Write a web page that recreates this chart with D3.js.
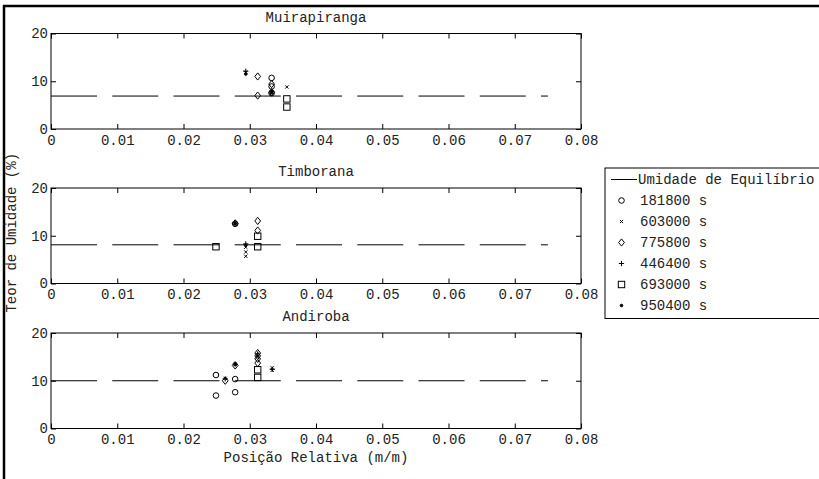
<!DOCTYPE html>
<html><head><meta charset="utf-8">
<script src="https://cdn.jsdelivr.net/npm/d3@7"></script>
<style>body{margin:0;background:#fff}svg{display:block}</style></head>
<body><svg id="c" width="819" height="479"></svg>
<script>
// ---------------- data ----------------
const panels = ["Muirapiranga", "Timborana", "Andiroba"];
const seriesNames = ["181800 s", "603000 s", "775800 s", "446400 s", "693000 s", "950400 s"];
const seriesSymbols = ["circle", "x", "diamond", "plus", "square", "dot"];
const equilibriumLabel = "Umidade de Equilíbrio";
const equilibrium = [6.9, 8.1, 10];
const equilibriumEnd = 0.075;
const xTicks = [0, 0.01, 0.02, 0.03, 0.04, 0.05, 0.06, 0.07, 0.08];
const yTicks = [0, 10, 20];
const xTitle = "Posição Relativa (m/m)";
const yTitle = "Teor de Umidade (%)";

const muirapirangaPoints = [
  {s: "446400 s", x: 0.0294, y: 12.1},
  {s: "603000 s", x: 0.0294, y: 11.9},
  {s: "950400 s", x: 0.0294, y: 11.5},
  {s: "775800 s", x: 0.0312, y: 11.0},
  {s: "775800 s", x: 0.0312, y: 7.0},
  {s: "181800 s", x: 0.0333, y: 10.7},
  {s: "181800 s", x: 0.0333, y: 8.9},
  {s: "775800 s", x: 0.0333, y: 9.4},
  {s: "181800 s", x: 0.0333, y: 7.5},
  {s: "775800 s", x: 0.0333, y: 7.7},
  {s: "446400 s", x: 0.0333, y: 7.9},
  {s: "603000 s", x: 0.0333, y: 7.8},
  {s: "950400 s", x: 0.0333, y: 7.6},
  {s: "603000 s", x: 0.0356, y: 8.8},
  {s: "693000 s", x: 0.0356, y: 6.3},
  {s: "693000 s", x: 0.0356, y: 4.6}
];
const timboranaPoints = [
  {s: "693000 s", x: 0.0249, y: 7.7},
  {s: "775800 s", x: 0.0278, y: 12.6},
  {s: "181800 s", x: 0.0278, y: 12.5},
  {s: "446400 s", x: 0.0278, y: 12.7},
  {s: "950400 s", x: 0.0278, y: 12.5},
  {s: "446400 s", x: 0.0294, y: 8.3},
  {s: "950400 s", x: 0.0294, y: 8.0},
  {s: "603000 s", x: 0.0294, y: 7.6},
  {s: "603000 s", x: 0.0294, y: 6.6},
  {s: "603000 s", x: 0.0294, y: 5.7},
  {s: "775800 s", x: 0.0312, y: 13.1},
  {s: "775800 s", x: 0.0312, y: 11.1},
  {s: "693000 s", x: 0.0312, y: 9.9},
  {s: "693000 s", x: 0.0312, y: 7.7}
];
const andirobaPoints = [
  {s: "181800 s", x: 0.0249, y: 11.2},
  {s: "181800 s", x: 0.0249, y: 6.9},
  {s: "775800 s", x: 0.0263, y: 10.0},
  {s: "603000 s", x: 0.0263, y: 10.5},
  {s: "446400 s", x: 0.0263, y: 10.4},
  {s: "775800 s", x: 0.0278, y: 13.2},
  {s: "603000 s", x: 0.0278, y: 13.5},
  {s: "446400 s", x: 0.0278, y: 13.5},
  {s: "950400 s", x: 0.0278, y: 13.4},
  {s: "181800 s", x: 0.0278, y: 10.35},
  {s: "181800 s", x: 0.0278, y: 7.6},
  {s: "775800 s", x: 0.0312, y: 15.8},
  {s: "446400 s", x: 0.0312, y: 15.6},
  {s: "775800 s", x: 0.0312, y: 15.2},
  {s: "603000 s", x: 0.0312, y: 15.0},
  {s: "775800 s", x: 0.0312, y: 14.6},
  {s: "775800 s", x: 0.0312, y: 13.7},
  {s: "693000 s", x: 0.0312, y: 12.3},
  {s: "693000 s", x: 0.0312, y: 10.7},
  {s: "603000 s", x: 0.0334, y: 12.7},
  {s: "446400 s", x: 0.0334, y: 12.4},
  {s: "603000 s", x: 0.0334, y: 12.2}
];
const panelPoints = [muirapirangaPoints, timboranaPoints, andirobaPoints];

// ---------------- layout ----------------
const W = 819, H = 479;
const FONT = "'Liberation Mono', 'Courier New', monospace";
const FS = 14;
const TXT = "#222";
const axLeft = 51, axRight = 581;
const axTops = [33.5, 188, 333];
const axH = 95.5;

const svg = d3.select("#c");
svg.append("rect").attr("width", W).attr("height", H).attr("fill", "#fff");

// figure frame (top and left edges)
svg.append("line").attr("x1", 3).attr("x2", W).attr("y1", 6).attr("y2", 6)
  .attr("stroke", "#000").attr("stroke-width", 2.5);
svg.append("line").attr("x1", 4).attr("x2", 4).attr("y1", 5).attr("y2", H)
  .attr("stroke", "#000").attr("stroke-width", 2.5);

const x = d3.scaleLinear().domain([0, 0.08]).range([axLeft, axRight]);

function drawSymbol(g, type, cx, cy) {
  const st = {stroke: "#000", "stroke-width": 1, fill: "none"};
  let el;
  if (type === "circle") {
    el = g.append("circle").attr("cx", cx).attr("cy", cy).attr("r", 2.8);
  } else if (type === "diamond") {
    const r = 3.6;
    el = g.append("path").attr("d", `M${cx},${cy - r}L${cx + r * 0.8},${cy}L${cx},${cy + r}L${cx - r * 0.8},${cy}Z`);
  } else if (type === "square") {
    const r = 3.2;
    el = g.append("rect").attr("x", cx - r).attr("y", cy - r).attr("width", 2 * r).attr("height", 2 * r);
  } else if (type === "x") {
    const r = 1.6;
    el = g.append("path").attr("d", `M${cx - r},${cy - r}L${cx + r},${cy + r}M${cx - r},${cy + r}L${cx + r},${cy - r}`);
  } else if (type === "plus") {
    const r = 2.6;
    el = g.append("path").attr("d", `M${cx - r},${cy}L${cx + r},${cy}M${cx},${cy - r}L${cx},${cy + r}`);
  } else {
    el = g.append("circle").attr("cx", cx).attr("cy", cy).attr("r", 1.3).attr("fill", "#000");
    st.fill = "#000";
  }
  Object.entries(st).forEach(([k, v]) => el.attr(k, v));
}

const symbolOf = s => seriesSymbols[seriesNames.indexOf(s)];

panels.forEach((name, i) => {
  const top = axTops[i], bottom = top + axH;
  const y = d3.scaleLinear().domain([0, 20]).range([bottom, top]);
  const g = svg.append("g");

  // equilibrium dashed line
  g.append("line")
    .attr("x1", x(0)).attr("x2", x(equilibriumEnd))
    .attr("y1", y(equilibrium[i])).attr("y2", y(equilibrium[i]))
    .attr("stroke", "#000").attr("stroke-width", 1)
    .attr("stroke-dasharray", "46,15.25");

  // axes with inward ticks
  const fmt = d => d === 0 ? "0" : d.toFixed(2);
  const bx = g.append("g").attr("transform", `translate(0,${bottom})`)
    .call(d3.axisBottom(x).tickValues(xTicks).tickSize(-5).tickPadding(6).tickFormat(fmt));
  const tx = g.append("g").attr("transform", `translate(0,${top})`)
    .call(d3.axisTop(x).tickValues(xTicks).tickSize(-5).tickFormat(""));
  const ly = g.append("g").attr("transform", `translate(${axLeft},0)`)
    .call(d3.axisLeft(y).tickValues(yTicks).tickSize(-5).tickPadding(3).tickFormat(d3.format("d")));
  const ry = g.append("g").attr("transform", `translate(${axRight},0)`)
    .call(d3.axisRight(y).tickValues(yTicks).tickSize(-5).tickFormat(""));
  [bx, tx, ly, ry].forEach(a => {
    a.select(".domain").remove();
    a.selectAll("line").attr("stroke", "#000");
    a.selectAll("text").attr("font-family", FONT).attr("font-size", FS).attr("fill", TXT);
  });

  // box
  g.append("rect").attr("x", axLeft).attr("y", top).attr("width", axRight - axLeft).attr("height", axH)
    .attr("fill", "none").attr("stroke", "#000").attr("stroke-width", 1);

  // title
  g.append("text").attr("x", (axLeft + axRight) / 2).attr("y", top - 12)
    .attr("text-anchor", "middle").attr("font-family", FONT).attr("font-size", FS).attr("fill", TXT)
    .text(name);

  // points
  const pg = g.append("g");
  panelPoints[i].forEach(p => drawSymbol(pg, symbolOf(p.s), x(p.x), y(p.y)));
});

// axis titles
svg.append("text").attr("x", (axLeft + axRight) / 2).attr("y", 462)
  .attr("text-anchor", "middle").attr("font-family", FONT).attr("font-size", FS).attr("fill", TXT).text(xTitle);
const midY = axTops[1] + axH / 2;
svg.append("text").attr("transform", `translate(16,${midY - 3}) rotate(-90)`)
  .attr("text-anchor", "middle").attr("font-family", FONT).attr("font-size", FS).attr("fill", TXT).text(yTitle);

// legend
const lg = svg.append("g");
const lgTop = 168, lgLeft = 605, rowH = 21, row0 = 179.5;
lg.append("rect").attr("x", lgLeft).attr("y", lgTop).attr("width", 230).attr("height", 150.5)
  .attr("fill", "#fff").attr("stroke", "#000").attr("stroke-width", 1);
lg.append("line").attr("x1", 611).attr("x2", 637).attr("y1", row0).attr("y2", row0)
  .attr("stroke", "#000").attr("stroke-width", 1);
lg.append("text").attr("x", 638).attr("y", row0).attr("dy", "0.32em")
  .attr("font-family", FONT).attr("font-size", FS).attr("fill", TXT).text(equilibriumLabel);
seriesNames.forEach((s, k) => {
  const yy = row0 + rowH * (k + 1);
  drawSymbol(lg, seriesSymbols[k], 621.5, yy);
  lg.append("text").attr("x", 640).attr("y", yy).attr("dy", "0.32em")
    .attr("font-family", FONT).attr("font-size", FS).attr("fill", TXT).text(s);
});
</script>
</body></html>
